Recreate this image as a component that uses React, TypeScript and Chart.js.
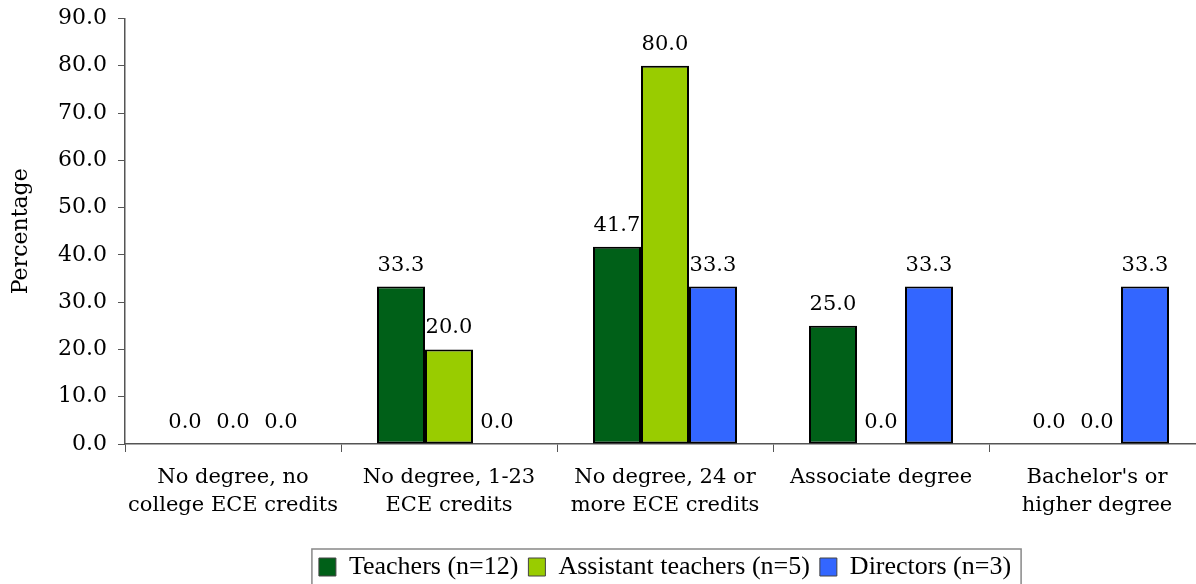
import React, { useEffect, useRef } from "react";
import { Chart, registerables } from "chart.js";

Chart.register(...registerables);

const categories: string[][] = [
  ["No degree, no", "college ECE credits"],
  ["No degree, 1-23", "ECE credits"],
  ["No degree, 24 or", "more ECE credits"],
  ["Associate degree"],
  ["Bachelor's or", "higher degree"],
];
const seriesNames = ["Teachers (n=12)", "Assistant teachers (n=5)", "Directors (n=3)"];
const teachers = [0.0, 33.3, 41.7, 25.0, 0.0];
const assistantTeachers = [0.0, 20.0, 80.0, 0.0, 0.0];
const directors = [0.0, 0.0, 33.3, 33.3, 33.3];
const seriesColors = ["#006018", "#99CC00", "#3366FF"];
const yMin = 0;
const yMax = 90;
const yStep = 10;

const SERIF = '"DejaVu Serif", serif';

const valueLabels = {
  id: "valueLabels",
  afterDatasetsDraw(chart: any) {
    const ctx = chart.ctx;
    ctx.save();
    ctx.font = `21px ${SERIF}`;
    ctx.fillStyle = "#000";
    ctx.textAlign = "center";
    ctx.textBaseline = "alphabetic";
    chart.data.datasets.forEach((ds: any, di: number) => {
      const meta = chart.getDatasetMeta(di);
      meta.data.forEach((bar: any, i: number) => {
        const v = ds.data[i] as number;
        ctx.fillText(v.toFixed(1), bar.x, bar.y - 16);
      });
    });
    ctx.restore();
  },
};

const legendBorder = {
  id: "legendBorder",
  afterDraw(chart: any) {
    const lg = chart.legend;
    const hb = lg && lg.legendHitBoxes;
    if (!hb || !hb.length) return;
    const first = hb[0];
    const last = hb[hb.length - 1];
    const left = first.left - 7;
    const right = last.left + last.width + 10;
    const top = first.top - 5;
    const ctx = chart.ctx;
    ctx.save();
    ctx.strokeStyle = "#888";
    ctx.lineWidth = 1.5;
    ctx.strokeRect(left, top, right - left, chart.height + 20 - top);
    ctx.restore();
  },
};

export default function App() {
  const canvasRef = useRef<HTMLCanvasElement | null>(null);

  useEffect(() => {
    document.documentElement.style.overflow = "hidden";
    document.body.style.margin = "0";
    document.body.style.overflow = "hidden";
    const canvas = canvasRef.current;
    if (!canvas) return;
    const values = [teachers, assistantTeachers, directors];
    const chart = new Chart(canvas, {
      type: "bar",
      data: {
        labels: categories,
        datasets: values.map((d, i) => ({
          label: seriesNames[i],
          data: d,
          backgroundColor: seriesColors[i],
          borderColor: "#000",
          borderWidth: 2,
          borderSkipped: false,
          categoryPercentage: 2 / 3,
          barPercentage: 1.0,
        })),
      },
      options: {
        responsive: false,
        animation: false,
        layout: { padding: { top: 18.5, left: 0, right: 10, bottom: 10 } },
        plugins: {
          tooltip: { enabled: false },
          legend: {
            position: "bottom",
            fullSize: false,
            labels: {
              color: "#000",
              font: { family: '"Liberation Serif", serif', size: 26 },
              boxWidth: 17,
              boxHeight: 18,
              padding: 10,
              generateLabels: (c: any) =>
                (Chart.defaults.plugins.legend.labels.generateLabels as any)(c).map((l: any) => ({
                  ...l,
                  lineWidth: 1,
                  strokeStyle: "#444",
                })),
            },
          },
        },
        scales: {
          x: {
            grid: {
              display: true,
              drawOnChartArea: false,
              drawTicks: true,
              tickLength: 8,
              color: "#555",
              offset: true,
            },
            border: { display: true, color: "#555", width: 1.5 },
            ticks: {
              color: "#000",
              font: { family: SERIF, size: 21, lineHeight: 1.33 },
              padding: 12,
              maxRotation: 0,
              autoSkip: false,
            },
            afterFit: (scale: any) => {
              scale.height = 100;
            },
          },
          y: {
            min: yMin,
            max: yMax,
            grid: {
              display: true,
              drawOnChartArea: false,
              drawTicks: true,
              tickLength: 7,
              color: "#555",
            },
            border: { display: true, color: "#555", width: 1.5 },
            ticks: {
              stepSize: yStep,
              color: "#000",
              font: { family: SERIF, size: 22 },
              padding: 11,
              callback: (v: any) => Number(v).toFixed(1),
            },
            title: {
              display: true,
              text: "Percentage",
              color: "#000",
              font: { family: SERIF, size: 22 },
              padding: { top: 8, bottom: 0 },
            },
            afterFit: (scale: any) => {
              scale.width = 125;
              scale.paddingTop = 0;
              scale.paddingBottom = 0;
            },
          },
        },
      },
      plugins: [valueLabels, legendBorder],
    } as any);
    return () => chart.destroy();
  }, []);

  return (
    <div style={{ position: "absolute", left: 0, top: 0, width: 1215, height: 600 }}>
      <canvas ref={canvasRef} width={1215} height={600} style={{ display: "block" }} />
    </div>
  );
}
